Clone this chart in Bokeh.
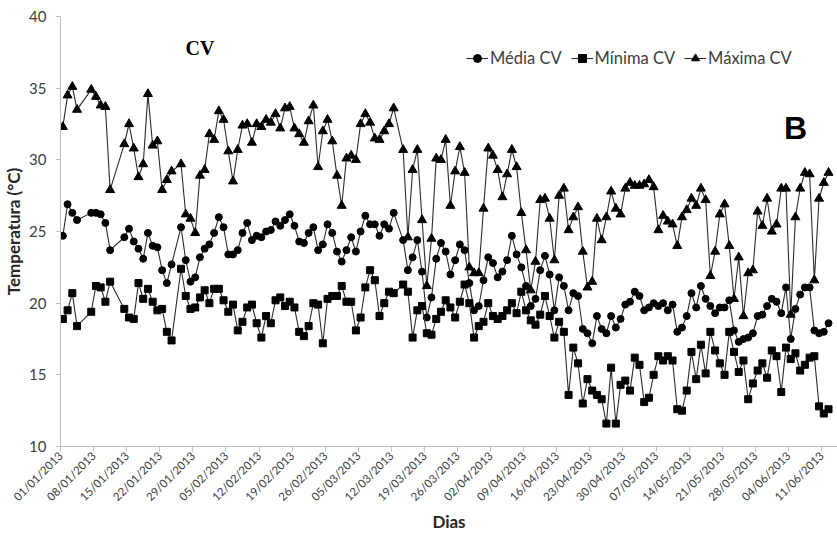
import math

from bokeh.embed import file_html
from bokeh.models import FixedTicker, Label, Legend, LegendItem, Range1d
from bokeh.plotting import figure
from bokeh.resources import INLINE

# Observation days, counted from 01/01/2013 (day 0); days without readings are skipped
dias = (list(range(0, 4)) + list(range(6, 11)) + list(range(13, 24))
        + list(range(25, 71)) + list(range(72, 163)))

maxima = [
    32.3, 34.5, 35.1, 33.5,
    34.9, 34.4, 33.8, 33.7, 27.9,
    31.1, 32.5, 30.8, 28.8, 29.7, 34.6, 31.0, 31.3, 27.9, 28.6, 29.2,
    29.7, 26.2, 25.9, 24.9, 28.9, 29.3, 31.8, 31.4, 33.4, 32.8,
    30.6, 28.5, 30.7, 32.4, 32.5, 31.2, 32.5, 32.3, 32.8, 32.6,
    33.2, 32.2, 33.6, 33.7, 32.2, 31.8, 31.2, 32.7, 33.8, 29.5,
    32.0, 32.8, 31.3, 28.9, 26.8, 30.1, 30.3, 30.0, 32.5, 33.2,
    32.6, 31.5, 31.4, 32.0, 32.5, 33.6,
    30.7, 24.6, 29.3, 30.7, 25.8, 21.2, 24.5, 30.1, 30.0, 31.4,
    26.8, 29.2, 30.9, 29.1, 22.5, 22.1, 22.1, 26.6, 30.8, 30.3,
    29.3, 27.4, 29.0, 30.7, 29.5, 26.3, 23.7, 20.9, 22.9, 27.2,
    27.3, 25.9, 23.0, 27.5, 28.0, 25.1, 26.0, 26.7, 23.6, 21.1,
    21.5, 25.9, 24.4, 26.0, 27.8, 26.6, 26.2, 28.0, 28.4, 28.2,
    28.2, 28.3, 28.6, 28.1, 25.1, 26.1, 25.7, 25.5, 24.0, 26.0,
    26.5, 27.3, 26.8, 28.0, 27.2, 21.9, 23.6, 26.2, 26.9, 24.0,
    20.3, 23.2, 19.1, 22.1, 22.3, 26.4, 25.4, 27.3, 25.0, 25.5,
    28.0, 28.0, 19.2, 26.0, 28.0, 29.1, 29.0, 21.6, 27.3, 28.4, 29.1,
]

media = [
    24.7, 26.9, 26.3, 25.8,
    26.3, 26.3, 26.2, 25.6, 23.7,
    24.6, 25.2, 24.3, 23.8, 23.1, 24.9, 24.0, 23.9, 22.3, 21.4, 22.7,
    25.3, 23.0, 21.5, 21.8, 23.2, 23.8, 24.1, 24.9, 26.0, 25.3,
    23.4, 23.4, 23.7, 24.9, 25.6, 24.4, 24.7, 24.6, 25.0, 25.1,
    25.7, 25.4, 25.8, 26.2, 25.4, 24.3, 24.2, 24.9, 25.3, 23.7,
    24.1, 25.5, 24.9, 23.6, 22.9, 23.7, 24.6, 23.6, 25.0, 26.1,
    25.5, 25.5, 24.7, 25.5, 25.2, 26.3,
    24.4, 22.3, 23.2, 24.4, 22.2, 19.0, 20.4, 23.1, 24.2, 23.6,
    22.0, 23.0, 24.1, 23.7, 21.4, 19.5, 19.8, 21.6, 23.2, 22.8,
    21.8, 22.2, 23.0, 24.7, 23.4, 22.5, 21.2, 19.8, 20.3, 22.3,
    23.3, 22.0, 19.5, 21.8, 21.2, 19.5, 20.7, 20.5, 18.2, 17.9,
    17.2, 19.1, 18.2, 17.9, 19.1, 18.3, 18.9, 19.9, 20.1, 20.8,
    20.5, 19.5, 19.7, 20.0, 19.8, 20.0, 19.5, 19.9, 18.0, 18.3,
    19.1, 20.7, 19.7, 21.2, 20.3, 19.8, 19.3, 19.7, 19.7, 20.2,
    18.1, 17.3, 17.5, 17.6, 17.9, 19.1, 19.2, 19.8, 20.3, 20.1,
    19.3, 21.1, 17.5, 19.6, 20.6, 21.1, 21.1, 18.1, 17.9, 18.0, 18.6,
]

minima = [
    18.9, 19.5, 20.7, 18.4,
    19.4, 21.2, 21.1, 20.1, 21.5,
    19.6, 19.0, 18.9, 21.4, 20.3, 21.0, 20.1, 19.5, 19.6, 18.0, 17.4,
    22.4, 20.5, 19.6, 19.7, 20.4, 20.9, 20.0, 21.0, 21.0, 20.2,
    19.4, 19.9, 18.1, 18.7, 19.7, 19.9, 18.6, 17.6, 19.1, 18.6,
    20.2, 20.4, 19.8, 20.1, 19.7, 18.0, 17.7, 18.4, 20.0, 19.9,
    17.2, 20.3, 20.5, 20.5, 21.2, 20.1, 20.1, 18.1, 19.0, 21.1,
    22.3, 21.6, 19.1, 20.0, 20.8, 20.7,
    21.3, 20.8, 17.6, 19.5, 19.8, 17.9, 17.8, 18.9, 19.4, 20.2,
    19.7, 19.0, 20.1, 21.3, 20.0, 17.6, 18.4, 18.7, 20.0, 19.1,
    18.9, 19.1, 19.5, 20.0, 19.3, 20.8, 19.5, 18.8, 18.5, 19.2,
    20.5, 19.1, 17.6, 18.7, 18.0, 13.6, 16.9, 15.8, 13.0, 14.7,
    13.9, 13.6, 13.3, 11.6, 15.5, 11.6, 14.3, 14.6, 13.9, 16.2,
    15.7, 13.1, 13.4, 15.0, 16.3, 16.0, 16.3, 16.0, 12.6, 12.5,
    13.9, 16.6, 14.7, 17.1, 15.1, 18.0, 16.7, 15.8, 15.0, 18.0,
    16.6, 15.2, 16.0, 13.3, 14.4, 15.3, 15.8, 14.8, 16.7, 16.3,
    13.8, 16.9, 16.1, 16.5, 15.3, 15.7, 16.2, 16.3, 12.8, 12.3, 12.6,
]

tick_dias = [0, 7, 14, 21, 28, 35, 42, 49, 56, 63, 70, 77, 84, 91, 98, 105,
             112, 119, 126, 133, 140, 147, 154, 161]
tick_rotulos = [
    "01/01/2013", "08/01/2013", "15/01/2013", "22/01/2013", "29/01/2013",
    "05/02/2013", "12/02/2013", "19/02/2013", "26/02/2013", "05/03/2013",
    "12/03/2013", "19/03/2013", "26/03/2013", "02/04/2013", "09/04/2013",
    "16/04/2013", "23/04/2013", "30/04/2013", "07/05/2013", "14/05/2013",
    "21/05/2013", "28/05/2013", "04/06/2013", "11/06/2013",
]

assert len(dias) == len(media) == len(minima) == len(maxima)

FONT = "Lato"
AXIS_GREY = "#bfbfbf"
TICK_TEXT = "#404040"
TITLE_TEXT = "#262626"
LINE_COLOR = "#2b2b2b"

# each reading sits in the middle of its day slot, between the weekly ticks
x = [d + 0.5 for d in dias]

p = figure(
    width=837, height=538,
    x_range=Range1d(0, 164.4), y_range=Range1d(10, 40),
    output_backend="svg", toolbar_location=None,
    min_border_left=57, min_border_right=0, min_border_top=16, min_border_bottom=92,
)
p.outline_line_color = None
p.xgrid.grid_line_color = None
p.ygrid.grid_line_color = None
p.background_fill_color = "white"
p.border_fill_color = "white"

# y axis
p.yaxis.ticker = FixedTicker(ticks=[10, 15, 20, 25, 30, 35, 40])
p.yaxis.axis_label = "Temperatura (°C)"
p.yaxis.axis_label_text_font = FONT
p.yaxis.axis_label_text_font_style = "bold"
p.yaxis.axis_label_text_font_size = "17px"
p.yaxis.axis_label_text_color = TITLE_TEXT
p.yaxis.axis_label_standoff = 2
p.yaxis.major_label_text_font = FONT
p.yaxis.major_label_text_font_size = "15px"
p.yaxis.major_label_text_color = TICK_TEXT
p.yaxis.major_label_standoff = 9
p.yaxis.axis_line_color = AXIS_GREY
p.yaxis.major_tick_line_color = AXIS_GREY
p.yaxis.major_tick_out = 5
p.yaxis.major_tick_in = 0
p.yaxis.minor_tick_line_color = None

# x axis: weekly ticks labelled with the date
p.xaxis.ticker = FixedTicker(ticks=tick_dias)
p.xaxis.major_label_overrides = {d: r for d, r in zip(tick_dias, tick_rotulos)}
p.xaxis.major_label_orientation = math.pi / 4
p.xaxis.axis_label = "Dias"
p.xaxis.axis_label_text_font = FONT
p.xaxis.axis_label_text_font_style = "bold"
p.xaxis.axis_label_text_font_size = "17px"
p.xaxis.axis_label_text_color = TITLE_TEXT
p.xaxis.axis_label_standoff = 0
p.xaxis.major_label_text_font = FONT
p.xaxis.major_label_text_font_size = "11.5px"
p.xaxis.major_label_text_color = TICK_TEXT
p.xaxis.major_label_standoff = 2
p.xaxis.axis_line_color = AXIS_GREY
p.xaxis.major_tick_line_color = AXIS_GREY
p.xaxis.major_tick_out = 5
p.xaxis.major_tick_in = 0
p.xaxis.minor_tick_line_color = None

series = [
    ("Média CV", media, "circle", 7),
    ("Mínima CV", minima, "square", 7),
    ("Máxima CV", maxima, "triangle", 9),
]

items = []
for nome, valores, marcador, tamanho in series:
    linha = p.line(x, valores, line_color=LINE_COLOR, line_width=1.1)
    pontos = p.scatter(x, valores, marker=marcador, size=tamanho,
                       fill_color="black", line_color="black")
    items.append(LegendItem(label=nome, renderers=[linha, pontos]))

legend = Legend(
    items=items, orientation="horizontal", location=(406, 378),
    label_text_font=FONT, label_text_font_size="16.5px", label_text_color="#404040",
    glyph_width=22, glyph_height=20, label_height=20, label_standoff=2,
    spacing=9, padding=0, margin=0,
    border_line_color=None, background_fill_alpha=0,
)
p.add_layout(legend)

p.add_layout(Label(x=29.5, y=37.8, text="CV", text_font="Liberation Serif",
                   text_font_style="bold", text_font_size="20px", text_color="black",
                   text_align="center", text_baseline="middle"))
p.add_layout(Label(x=155.5, y=32.2, text="B", text_font="Liberation Sans",
                   text_font_style="bold", text_font_size="32px", text_color="black",
                   text_align="center", text_baseline="middle"))

open("out.html", "w").write(file_html(p, INLINE))
